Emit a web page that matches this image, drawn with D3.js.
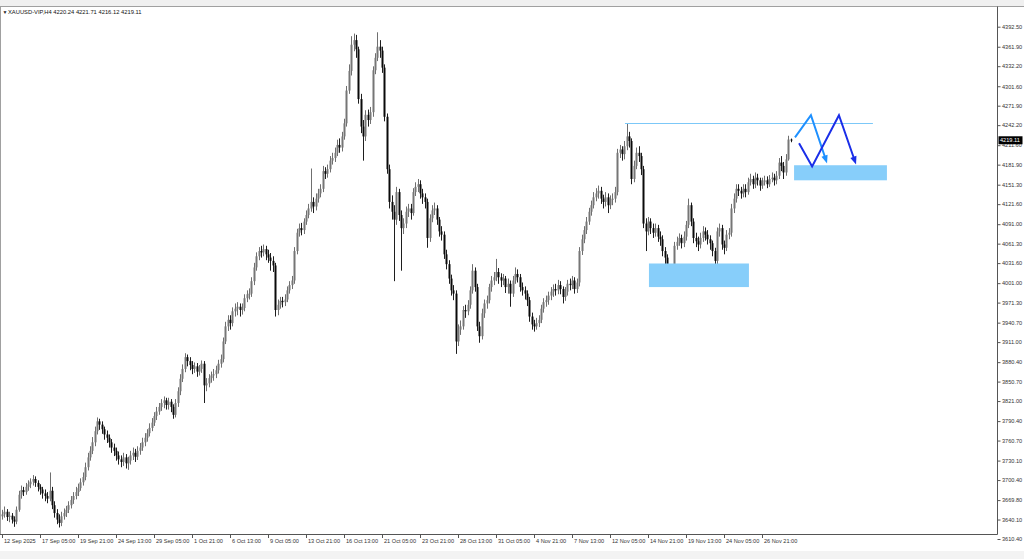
<!DOCTYPE html>
<html>
<head>
<meta charset="utf-8">
<script src="https://cdn.jsdelivr.net/npm/d3@7"></script>
<style>
  html, body { margin: 0; padding: 0; background: #ffffff; }
  svg { display: block; font-family: "Liberation Sans", Arial, sans-serif; }
</style>
</head>
<body>
<svg id="chart" width="1024" height="559"></svg>
<script>
// ---------------- DATA ----------------
const symbolTitle = "XAUUSD-VIP,H4  4220.24 4221.71 4216.12 4219.11";
const firstOpen = 3645;
const lastOpen = 4220.24;

const closes = [
3648,3652,3644,3646,3640,3637,3655,3678,3685,3682,
3690,3694,3698,3702,3696,3690,3686,3680,3676,3672,
3684,3662,3650,3640,3635,3645,3650,3655,3662,3670,
3676,3682,3688,3697,3705,3720,3735,3745,3758,3775,
3790,3785,3778,3770,3765,3758,3750,3745,3738,3732,
3728,3735,3726,3730,3738,3742,3736,3745,3750,3758,
3765,3772,3780,3788,3798,3805,3812,3818,3822,3815,
3820,3812,3800,3818,3836,3855,3870,3888,3882,3876,
3870,3874,3866,3870,3878,3845,3848,3856,3860,3862,
3868,3878,3885,3912,3935,3945,3940,3958,3962,3965,
3960,3963,3978,3984,3985,4004,4025,4042,4050,4048,
4053,4045,4040,4035,4028,3960,3968,3974,3972,3976,
3990,3998,4005,4050,4078,4085,4082,4095,4105,4115,
4125,4118,4130,4138,4145,4172,4168,4175,4188,4192,
4200,4212,4208,4225,4245,4295,4325,4365,4372,4358,
4282,4240,4225,4258,4250,4262,4326,4345,4362,4356,
4330,4255,4175,4125,4110,4098,4140,4105,4085,4092,
4110,4115,4108,4140,4148,4152,4138,4132,4125,4070,
4100,4112,4115,4098,4080,4075,4045,4030,4008,3990,
3985,3912,3930,3935,3960,3958,3968,3990,4020,3995,
3935,3920,3955,3970,3975,3995,4005,4010,4018,4010,
4005,4008,3995,4000,3985,4005,4015,4010,3995,3990,
3985,3975,3950,3938,3935,3940,3945,3962,3972,3975,
3982,3988,3992,3990,3998,3992,3980,3988,4000,3998,
4005,3992,4002,4050,4068,4082,4095,4110,4120,4132,
4138,4142,4130,4125,4132,4120,4128,4130,4140,4200,
4205,4198,4210,4225,4218,4160,4180,4200,4195,4175,
4092,4080,4095,4085,4078,4085,4072,4068,4050,4040,
4020,4005,4020,4058,4064,4070,4062,4072,4090,4120,
4095,4070,4065,4060,4070,4080,4075,4068,4062,4050,
4035,4080,4085,4060,4055,4075,4078,4115,4130,4145,
4142,4138,4145,4140,4155,4160,4152,4162,4158,4150,
4155,4158,4152,4160,4162,4158,4165,4185,4180,4170,
4190,4220.24,4219.11];

const highs = [
3655,3660,3656,3652,3650,3645,3660,3684,3692,3690,
3696,3700,3703,3708,3706,3700,3694,3690,3686,3682,
3712,3690,3668,3656,3648,3652,3657,3661,3668,3676,
3682,3690,3695,3703,3712,3727,3742,3752,3766,3782,
3796,3794,3790,3782,3776,3770,3763,3756,3750,3744,
3738,3742,3740,3736,3745,3750,3748,3752,3757,3765,
3772,3778,3787,3795,3804,3812,3818,3824,3828,3826,
3826,3824,3816,3824,3842,3862,3877,3894,3892,3888,
3882,3880,3879,3876,3883,3882,3856,3862,3866,3870,
3875,3884,3892,3918,3942,3952,3952,3964,3970,3972,
3970,3970,3984,3990,3993,4010,4032,4048,4056,4058,
4060,4058,4052,4047,4042,4032,3976,3980,3980,3984,
3996,4004,4012,4056,4084,4092,4093,4100,4112,4122,
4176,4132,4138,4145,4152,4180,4178,4182,4195,4200,
4208,4220,4222,4232,4252,4302,4335,4378,4382,4380,
4362,4290,4250,4265,4266,4270,4332,4352,4384,4372,
4362,4335,4260,4182,4135,4120,4148,4145,4112,4100,
4118,4122,4122,4146,4155,4160,4158,4145,4138,4130,
4106,4120,4124,4120,4102,4088,4080,4052,4036,4014,
3998,3990,3938,3944,3966,3968,3975,3996,4030,4025,
4000,3942,3962,3976,3982,4000,4012,4018,4038,4024,
4016,4015,4012,4008,4005,4012,4025,4022,4015,4002,
3996,3990,3980,3956,3945,3948,3952,3968,3978,3982,
3988,3995,3999,4000,4006,4004,3996,3995,4006,4008,
4012,4010,4008,4056,4075,4088,4102,4116,4127,4140,
4146,4150,4148,4136,4140,4138,4135,4138,4148,4206,
4212,4210,4218,4245,4232,4222,4188,4208,4210,4200,
4180,4100,4102,4100,4092,4092,4090,4080,4074,4056,
4045,4028,4028,4064,4072,4077,4075,4080,4096,4130,
4124,4100,4078,4072,4078,4088,4086,4082,4074,4066,
4055,4086,4092,4090,4066,4082,4085,4122,4138,4152,
4152,4148,4152,4152,4162,4168,4165,4170,4168,4162,
4162,4165,4164,4166,4170,4168,4172,4192,4195,4186,
4198,4226,4221.71];

const lows = [
3640,3643,3638,3636,3634,3629,3633,3652,3672,3676,
3678,3684,3688,3692,3690,3683,3678,3672,3668,3665,
3668,3656,3643,3633,3628,3630,3640,3644,3650,3657,
3664,3671,3676,3684,3692,3700,3715,3730,3740,3752,
3770,3777,3771,3762,3757,3750,3742,3737,3730,3724,
3720,3722,3718,3716,3724,3731,3728,3731,3739,3745,
3752,3759,3767,3775,3783,3792,3800,3806,3810,3808,
3808,3804,3794,3796,3812,3830,3850,3865,3874,3868,
3862,3864,3858,3860,3864,3818,3836,3842,3849,3852,
3856,3863,3872,3880,3908,3928,3930,3935,3950,3952,
3950,3953,3958,3972,3976,3980,3998,4020,4036,4040,
4042,4036,4032,4020,4018,3950,3952,3962,3964,3966,
3972,3985,3992,4000,4045,4072,4074,4076,4090,4100,
4110,4108,4112,4124,4132,4140,4160,4162,4170,4182,
4186,4195,4200,4202,4220,4240,4290,4318,4355,4345,
4275,4230,4188,4218,4240,4244,4255,4320,4340,4345,
4322,4248,4168,4115,4098,4004,4090,4096,4020,4076,
4085,4102,4098,4104,4134,4140,4130,4122,4115,4055,
4064,4094,4105,4090,4072,4066,4038,4022,4000,3982,
3975,3893,3905,3922,3930,3948,3952,3962,3985,3988,
3928,3910,3915,3948,3962,3970,3988,3998,4004,4000,
3995,3998,3986,3985,3965,3980,4000,4002,3988,3982,
3976,3966,3942,3930,3927,3930,3934,3940,3956,3965,
3968,3975,3980,3982,3984,3984,3970,3974,3982,3990,
3992,3985,3986,3996,4044,4062,4076,4090,4104,4115,
4126,4130,4122,4115,4118,4108,4114,4120,4124,4135,
4192,4188,4190,4204,4208,4152,4155,4175,4186,4166,
4085,4050,4074,4076,4070,4072,4064,4058,4042,4030,
4010,3997,4000,4015,4052,4058,4054,4056,4066,4085,
4088,4062,4056,4050,4054,4064,4066,4060,4052,4042,
4020,4030,4072,4052,4045,4050,4068,4072,4108,4124,
4134,4130,4132,4132,4136,4150,4145,4146,4150,4142,
4145,4150,4146,4148,4155,4150,4152,4160,4172,4160,
4165,4188,4216.12];

const yTickValues = [4392.50,4361.90,4332.20,4301.60,4271.90,4242.20,4211.60,4181.90,4151.30,4121.60,4091.00,4061.30,4031.60,4001.00,3971.30,3940.70,3911.00,3880.40,3850.70,3821.00,3790.40,3760.70,3730.10,3700.40,3669.80,3640.10,3610.40];

const xTickBars = [0,16,32,48,64,80,96,112,128,144,160,176,192,208,224,240,256,272,288,304,320];
const xTickLabels = ["12 Sep 2025","17 Sep 05:00","19 Sep 21:00","24 Sep 13:00","29 Sep 05:00","1 Oct 21:00","6 Oct 13:00","9 Oct 05:00","13 Oct 21:00","16 Oct 13:00","21 Oct 05:00","23 Oct 21:00","28 Oct 13:00","31 Oct 05:00","4 Nov 21:00","7 Nov 13:00","12 Nov 05:00","14 Nov 21:00","19 Nov 13:00","24 Nov 05:00","26 Nov 21:00"];

// Drawn objects (bar index, price)
const resistanceLine = { bar0: 262.3, bar1: 366.7, price: 4245 };
const zones = [
  { bar0: 272.4, bar1: 314.5, top: 4031, bottom: 3995 },
  { bar0: 333.5, bar1: 372.6, top: 4181, bottom: 4158 }
];
const pathLight = [[333.9,4223.6],[340.6,4257.3],[347.4,4183.8]];
const pathDark  = [[335.6,4214.4],[341.1,4179.2],[352.4,4257.3],[359.6,4182.3]];

// ---------------- CHART ----------------
const svg = d3.select("#chart");
const W = 1024, H = 559;
const plotL = 0.5, plotR = 997, plotT = 6.5, plotB = 534;

const opens = closes.map((c, i) => i === 0 ? firstOpen : (i === closes.length - 1 ? lastOpen : closes[i - 1]));

const x = d3.scaleLinear().domain([0, closes.length - 1]).range([2, 790.5]);
const y = d3.scaleLinear().domain([3610.4, 4392.5]).range([539, 26.7]);

// background strips
svg.append("rect").attr("x", 0).attr("y", 0).attr("width", W).attr("height", H).attr("fill", "#ffffff");
svg.append("rect").attr("x", 0).attr("y", 0).attr("width", W).attr("height", 6).attr("fill", "#f0f0f0");
svg.append("rect").attr("x", 0).attr("y", 551).attr("width", W).attr("height", 8).attr("fill", "#f3f3f3");

svg.append("defs").append("clipPath").attr("id", "clip")
  .append("rect").attr("x", plotL).attr("y", plotT).attr("width", plotR - plotL).attr("height", plotB - plotT);

const g = svg.append("g").attr("clip-path", "url(#clip)");

const bars = closes.map((c, i) => ({ i, o: opens[i], h: highs[i], l: lows[i], c }));

// wicks
g.append("g").selectAll("line").data(bars).join("line")
  .attr("x1", d => Math.round(x(d.i)) + 0.5).attr("x2", d => Math.round(x(d.i)) + 0.5)
  .attr("y1", d => y(d.h)).attr("y2", d => y(d.l))
  .attr("stroke", d => d.c >= d.o ? "#6f6f6f" : "#1e1e1e")
  .attr("stroke-width", 1);

// bodies
g.append("g").selectAll("rect").data(bars).join("rect")
  .attr("x", d => Math.round(x(d.i)) - 0.5)
  .attr("width", 2)
  .attr("y", d => y(Math.max(d.o, d.c)))
  .attr("height", d => Math.max(1, Math.abs(y(d.o) - y(d.c))))
  .attr("fill", d => d.c >= d.o ? "#767676" : "#0a0a0a");

// zones
g.append("g").selectAll("rect").data(zones).join("rect")
  .attr("x", d => x(d.bar0)).attr("width", d => x(d.bar1) - x(d.bar0))
  .attr("y", d => y(d.top)).attr("height", d => y(d.bottom) - y(d.top))
  .attr("fill", "#87cefa");

// resistance line
g.append("line")
  .attr("x1", x(resistanceLine.bar0)).attr("x2", x(resistanceLine.bar1))
  .attr("y1", Math.round(y(resistanceLine.price)) + 0.5).attr("y2", Math.round(y(resistanceLine.price)) + 0.5)
  .attr("stroke", "#7cc8f8").attr("stroke-width", 1.2);

// arrows
function drawArrow(pts, color) {
  const n = pts.length;
  const pEnd = [x(pts[n - 1][0]), y(pts[n - 1][1])];
  const pPrev = [x(pts[n - 2][0]), y(pts[n - 2][1])];
  const ang = Math.atan2(pEnd[1] - pPrev[1], pEnd[0] - pPrev[0]);
  const len = 8, wid = 3.2;
  const shortened = pts.map(p => [x(p[0]), y(p[1])]);
  shortened[n - 1] = [pEnd[0] - Math.cos(ang) * (len - 1), pEnd[1] - Math.sin(ang) * (len - 1)];
  g.append("path")
    .attr("d", d3.line()(shortened))
    .attr("fill", "none").attr("stroke", color).attr("stroke-width", 2)
    .attr("stroke-linejoin", "miter");
  const bx = pEnd[0] - Math.cos(ang) * len, by = pEnd[1] - Math.sin(ang) * len;
  const head = [
    [pEnd[0], pEnd[1]],
    [bx + Math.sin(ang) * wid, by - Math.cos(ang) * wid],
    [bx - Math.sin(ang) * wid, by + Math.cos(ang) * wid]
  ];
  g.append("path").attr("d", "M" + head.map(p => p.join(",")).join("L") + "Z").attr("fill", color);
}
drawArrow(pathLight, "#1e90ff");
drawArrow(pathDark, "#1a2ee8");

// frame
svg.append("line").attr("x1", 0).attr("x2", W).attr("y1", plotT).attr("y2", plotT).attr("stroke", "#a0a0a0");
svg.append("line").attr("x1", plotL).attr("x2", plotL).attr("y1", plotT).attr("y2", plotB).attr("stroke", "#a0a0a0");
svg.append("line").attr("x1", plotR + 0.5).attr("x2", plotR + 0.5).attr("y1", plotT).attr("y2", plotB + 0.5).attr("stroke", "#555");
svg.append("line").attr("x1", 0).attr("x2", plotR + 0.5).attr("y1", plotB + 0.5).attr("y2", plotB + 0.5).attr("stroke", "#555");

// y axis
const yAxis = d3.axisRight(y).tickValues(yTickValues).tickFormat(d3.format(".2f")).tickSize(3).tickPadding(1.5);
const ya = svg.append("g").attr("transform", `translate(${plotR + 0.5},0)`).call(yAxis);
ya.select(".domain").remove();
ya.selectAll("line").attr("stroke", "#555");
ya.selectAll("text").attr("font-size", 5.6).attr("fill", "#333").attr("font-family", "Liberation Sans, Arial, sans-serif");

// current price label
const lastC = closes[closes.length - 1];
svg.append("rect").attr("x", plotR + 1.5).attr("y", y(lastC) - 4).attr("width", 24).attr("height", 8).attr("fill", "#000");
svg.append("text").attr("x", plotR + 3).attr("y", y(lastC) + 2).attr("font-size", 5.6).attr("fill", "#fff")
  .attr("font-family", "Liberation Sans, Arial, sans-serif").text(d3.format(".2f")(lastC));

// x axis
const xAxis = d3.axisBottom(x).tickValues(xTickBars).tickFormat((d, i) => xTickLabels[i]).tickSize(3.5).tickPadding(1.5);
const xa = svg.append("g").attr("transform", `translate(0,${plotB + 0.5})`).call(xAxis);
xa.select(".domain").remove();
xa.selectAll("line").attr("stroke", "#555");
xa.selectAll("text").attr("font-size", 5.6).attr("fill", "#333").attr("text-anchor", "start").attr("dx", 1.5)
  .attr("font-family", "Liberation Sans, Arial, sans-serif");

// header
svg.append("text").attr("x", 2.5).attr("y", 14).attr("font-size", 5).attr("fill", "#222").text("▼");
svg.append("text").attr("x", 8).attr("y", 14).attr("font-size", 5.8).attr("fill", "#111")
  .attr("font-family", "Liberation Sans, Arial, sans-serif").text(symbolTitle);
</script>
</body>
</html>
